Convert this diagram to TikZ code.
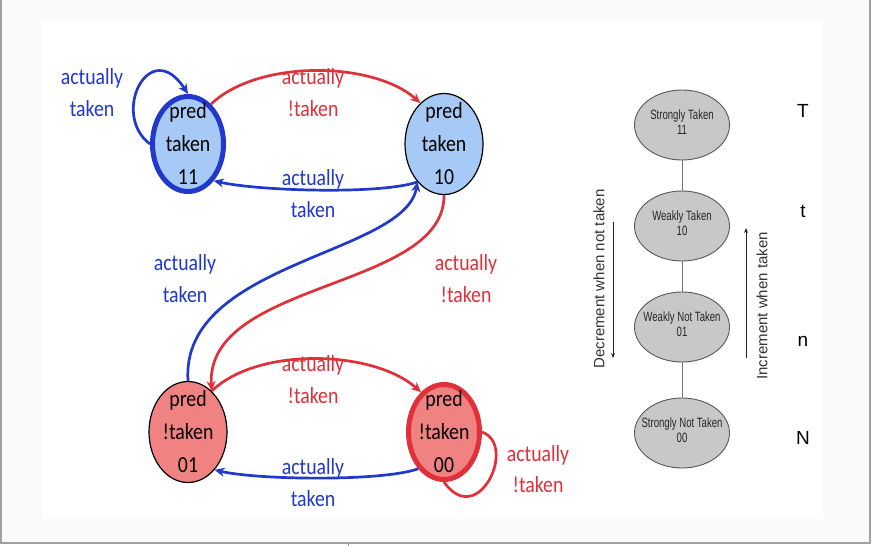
\documentclass[tikz,border=0pt]{standalone}
\usepackage{fontspec}
\setmainfont{Carlito}[FakeStretch=0.86]
\newfontfamily\smallsans{Liberation Sans}[FakeStretch=0.71]
\newfontfamily\rotsans{Liberation Sans}
\newfontfamily\lettersans{Liberation Sans}
\usetikzlibrary{shapes.geometric,arrows.meta}
\definecolor{myblue}{RGB}{32,56,204}
\definecolor{myred}{RGB}{224,48,58}
\definecolor{lblue}{RGB}{166,201,245}
\definecolor{salmon}{RGB}{240,130,130}
\definecolor{ellgray}{RGB}{200,200,200}
\definecolor{framegray}{RGB}{160,160,160}
\definecolor{bggray}{RGB}{250,250,250}
\tikzset{
  stnode/.style={ellipse, inner sep=0pt, minimum width=78pt, minimum height=101pt, draw=black, line width=1.2pt},
  thickblue/.style={stnode, draw=myblue, line width=5pt, minimum width=71pt, minimum height=95pt},
  thickred/.style={stnode, draw=myred, line width=5pt, minimum width=71pt, minimum height=95pt},
  sttext/.style={align=center, inner sep=0pt, font=\fontsize{23}{33}\selectfont},
  lab/.style={align=center, inner sep=0pt, font=\fontsize{23}{31.5}\selectfont},
  blab/.style={lab, text=myblue},
  rlab/.style={lab, text=myred},
  bedge/.style={draw=myblue, line width=2.7pt, -{Stealth[length=10pt,width=9pt]}},
  redge/.style={draw=myred, line width=2.7pt, -{Stealth[length=10pt,width=9pt]}},
  grayell/.style={ellipse, inner sep=0pt, minimum width=95pt, minimum height=70pt, draw=black!65, line width=0.9pt, fill=ellgray},
  smalltxt/.style={align=center, inner sep=0pt, text=black!85, font=\smallsans\fontsize{13.5}{15}\selectfont},
  rottxt/.style={rotate=90, inner sep=0pt, text=black!80, font=\rotsans\fontsize{15}{18}\selectfont},
  letter/.style={inner sep=0pt, font=\lettersans\fontsize{19}{22}\selectfont},
  thinarrow/.style={draw=black!85, line width=0.9pt, -{Stealth[length=5pt,width=4pt]}}
}
\begin{document}
\begin{tikzpicture}[x=1pt,y=-1pt]
\useasboundingbox (0,0) rectangle (872,546);
% frame
\fill[bggray] (0,0) rectangle (871,542);
\fill[white] (42,21) rectangle (823,519);
\draw[framegray, line width=2pt] (1,0) -- (1,542.5) -- (870,542.5) -- (870,0);
\draw[framegray, line width=1pt] (348,543) -- (348,546);

% left state machine
\node[thickblue, fill=lblue] (n11) at (188,144) {};
\node[stnode, fill=lblue] (n10) at (444,144) {};
\node[stnode, fill=salmon] (n01) at (188,432) {};
\node[thickred, fill=salmon] (n00) at (444,432) {};
\node[sttext] (t11) at (n11) {pred\\taken\\11};
\node[sttext] (t10) at (n10) {pred\\taken\\10};
\node[sttext] (t01) at (n01) {pred\\!taken\\01};
\node[sttext] (t00) at (n00) {pred\\!taken\\00};

% edges
\draw[bedge] (n11.west) .. controls +(-40,-30) and +(-38,-59) .. (n11.north);
\draw[redge] (n11.60) .. controls +(47,-45) and +(-47,-42) .. (n10.120);
\draw[bedge] (n10.235) .. controls +(-37,13) and +(43,10) .. (n11.305);
\draw[bedge] (n01.north) .. controls (180,262) and (405,255) .. (n10.235);
\draw[redge] (n10.south) .. controls (445,290) and (205,280) .. (n01.60);
\draw[redge] (n01.60) .. controls +(47,-45) and +(-47,-42) .. (n00.120);
\draw[bedge] (n00.235) .. controls +(-37,13) and +(43,10) .. (n01.305);
\draw[myred, line width=2.7pt] (n00.east) .. controls (518,445) and (478,530) .. (n00.south);

% edge labels
\node[blab] (l1) at (92,92.5) {actually\\taken};
\node[rlab] (l2) at (313,92.5) {actually\\!taken};
\node[blab] (l3) at (313,193.5) {actually\\taken};
\node[blab] (l4) at (185,278.5) {actually\\taken};
\node[rlab] (l5) at (466,278.5) {actually\\!taken};
\node[rlab] (l6) at (313,379.5) {actually\\!taken};
\node[blab] (l7) at (313,482.5) {actually\\taken};
\node[rlab] (l8) at (538,469) {actually\\!taken};

% right diagram
\node[grayell] (s11) at (682,125) {};
\node[grayell] (s10) at (682,226) {};
\node[grayell] (s01) at (682,327) {};
\node[grayell] (s00) at (682,433) {};
\draw[black!55, line width=1pt] (s11.south) -- (s10.north);
\draw[black!55, line width=1pt] (s10.south) -- (s01.north);
\draw[black!55, line width=1pt] (s01.south) -- (s00.north);
\node[smalltxt] (ts11) at (682,122) {Strongly Taken\\11};
\node[smalltxt] (ts10) at (682,223.5) {Weakly Taken\\10};
\node[smalltxt] (ts01) at (682,324.5) {Weakly Not Taken\\01};
\node[smalltxt] (ts00) at (682,430.5) {Strongly Not Taken\\00};

\node[rottxt] (dec) at (599,279) {Decrement when not taken};
\node[rottxt] (inc) at (762,306) {Increment when taken};
\coordinate (da) at (613,222);
\coordinate (db) at (613,358);
\coordinate (ia) at (746,358);
\coordinate (ib) at (746,228);
\draw[thinarrow] (da) -- (db);
\draw[thinarrow] (ia) -- (ib);

\node[letter] (lT) at (803,111) {T};
\node[letter] (lt) at (803,211) {t};
\node[letter] (ln) at (803,341) {n};
\node[letter] (lN) at (803,438) {N};
\end{tikzpicture}
\end{document}
